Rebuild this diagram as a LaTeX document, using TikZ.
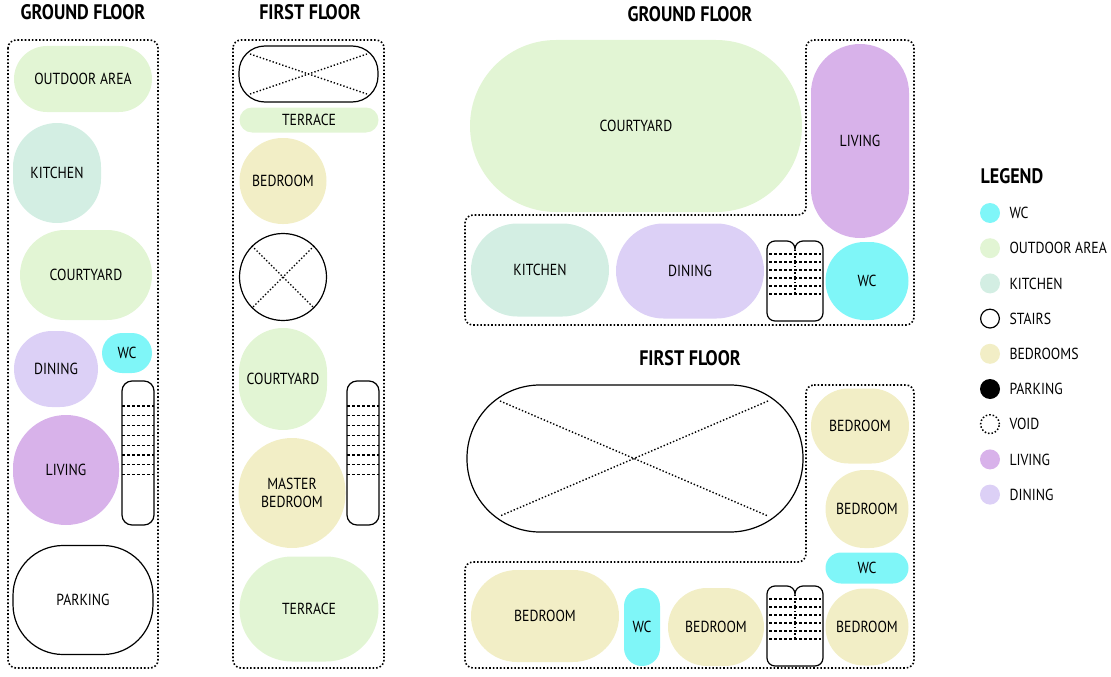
\documentclass[tikz,border=0pt]{standalone}
\usepackage{fontspec}
\setmainfont{PT Sans}[FakeStretch=0.86]
\definecolor{cWC}{HTML}{7FF6F8}
\definecolor{cOut}{HTML}{E2F5D4}
\definecolor{cKit}{HTML}{D3EEE3}
\definecolor{cBed}{HTML}{F2EEC6}
\definecolor{cLiv}{HTML}{D8B2EA}
\definecolor{cDin}{HTML}{DCD0F6}
\tikzset{
  room/.style={inner sep=0pt,align=center,font=\fontsize{16}{18.5}\selectfont},
  void/.style={room,draw=black,line width=1.2pt,fill=white},
  outline/.style={dotted,line width=1.6pt},
  cross/.style={dotted,line width=1.4pt},
  title/.style={font=\bfseries\fontsize{21}{23}\selectfont},
  key/.style={circle,minimum size=20pt,inner sep=0pt},
  keytext/.style={anchor=west,font=\fontsize{16}{18.5}\selectfont}
}
% macro for a rounded room: name, centre, w, h, colour, text
\newcommand\room[6]{\node[room,fill=#5,minimum width=#3pt,minimum height=#4pt,
  rounded corners={min(#3,#4)/2*1pt}] (#1) at (#2) {#6};}
\newcommand\stairsV[2]{% left, top
  \draw[line width=1.2pt,rounded corners=10pt] (#1,#2) rectangle ++(32,144);
  \foreach \i in {0,...,7}
    \draw[densely dashed,line width=1.2pt] (#1,#2+25+\i*9.8) -- ++(32,0);}
\newcommand\stairsD[2]{% left, top
  \draw[line width=1.2pt,rounded corners=8pt] (#1+28,#2+9) -- (#1+28,#2) -- (#1+56,#2)
    -- (#1+56,#2+80) -- (#1,#2+80) -- (#1,#2) -- (#1+28,#2) -- (#1+28,#2+9);
  \foreach \i in {0,...,5}
    \draw[densely dashed,line width=1.2pt] (#1+2,#2+13+\i*8) -- ++(52,0);
  \draw[dotted,line width=1.2pt] (#1+28,#2+9) -- (#1+28,#2+53);}
\begin{document}
\begin{tikzpicture}[x=1pt,y=-1pt]
\useasboundingbox (0,0) rectangle (1111,677);

% ground floor, left
\node[title] (t1) at (83,12) {GROUND FLOOR};
\draw[outline,rounded corners=8pt] (8,40) rectangle (158,668);
\room{out1}{83,79}{138}{66}{cOut}{OUTDOOR AREA}
\room{kit1}{57,173}{88}{100}{cKit}{KITCHEN}
\room{crt1}{86,275}{132}{90}{cOut}{COURTYARD}
\room{din1}{56,369}{84}{76}{cDin}{DINING}
\room{wc1}{127,353}{50}{40}{cWC}{WC}
\room{liv1}{66,470}{106}{110}{cLiv}{LIVING}
\node[void,minimum width=140pt,minimum height=109pt,rounded corners=50pt] (park1) at (83,600) {PARKING};
\stairsV{122}{381}

% first floor, left
\node[title] (t2) at (310,12) {FIRST FLOOR};
\draw[outline,rounded corners=8pt] (233,40) rectangle (384,668);
\node[void,minimum width=139pt,minimum height=56pt,rounded corners=26pt] (vd1) at (308.5,74) {};
\draw[cross] (250,54) -- (367,94) (250,94) -- (367,54);
\room{ter1}{309,120}{139}{25}{cOut}{TERRACE}
\room{bed1}{283,181}{87}{86}{cBed}{BEDROOM}
\node[void,circle,minimum size=87pt] (vd2) at (283,277) {};
\draw[cross] (vd2.north west) -- (vd2.south east) (vd2.north east) -- (vd2.south west);
\room{crt2}{283,379}{88}{102}{cOut}{COURTYARD}
\room{mbed}{292,493}{107}{110}{cBed}{MASTER\\BEDROOM}
\room{ter2}{309,609}{139}{105}{cOut}{TERRACE}
\stairsV{347}{381}

% ground floor, right
\node[title] (t3) at (690,14) {GROUND FLOOR};
\draw[outline,rounded corners=8pt] (806,40) -- (914,40) -- (914,325) -- (465,325)
  -- (465,215) -- (806,215) -- cycle;
\room{crt3}{636,126}{332}{172}{cOut}{COURTYARD}
\room{liv2}{860,141}{98}{194}{cLiv}{LIVING}
\room{kit2}{540,270}{138}{93}{cKit}{KITCHEN}
\room{din2}{690,271}{148}{95}{cDin}{DINING}
\room{wc2}{867,281}{83}{78}{cWC}{WC}
\stairsD{767}{241}

% first floor, right
\node[title] (t4) at (690,358) {FIRST FLOOR};
\draw[outline,rounded corners=8pt] (806,385) -- (914,385) -- (914,668) -- (465,668)
  -- (465,562) -- (806,562) -- cycle;
\node[void,minimum width=336pt,minimum height=147pt,rounded corners=73pt] (vd3) at (635,458.5) {};
\draw[cross] (500,401) -- (768,516) (768,401) -- (500,516);
\room{bed2}{860,426}{98}{75}{cBed}{BEDROOM}
\room{bed3}{867,509}{83}{78}{cBed}{BEDROOM}
\room{wc3}{867,568}{83}{31}{cWC}{WC}
\room{bed4}{867,627}{83}{77}{cBed}{BEDROOM}
\room{bed5}{545,616}{148}{92}{cBed}{BEDROOM}
\room{wc4}{642,627}{36}{78}{cWC}{WC}
\room{bed6}{716,627}{96}{78}{cBed}{BEDROOM}
\stairsD{767}{586}

% legend
\node[title,anchor=west] (leg) at (977,176) {LEGEND};
\foreach \c/\t [count=\i from 0] in {cWC/WC,cOut/OUTDOOR AREA,cKit/KITCHEN,
    white/STAIRS,cBed/BEDROOMS,black/PARKING,white/VOID,cLiv/LIVING,cDin/DINING}{
  \node[key,fill=\c] (k\i) at (990,213+\i*35.2) {};
  \node[keytext] (l\i) at (1006,213+\i*35.2) {\t};
}
\draw[line width=1.2pt] (k3) circle (9.4pt);
\draw[dotted,line width=1.5pt] (k6) circle (9.4pt);
\end{tikzpicture}
\end{document}
